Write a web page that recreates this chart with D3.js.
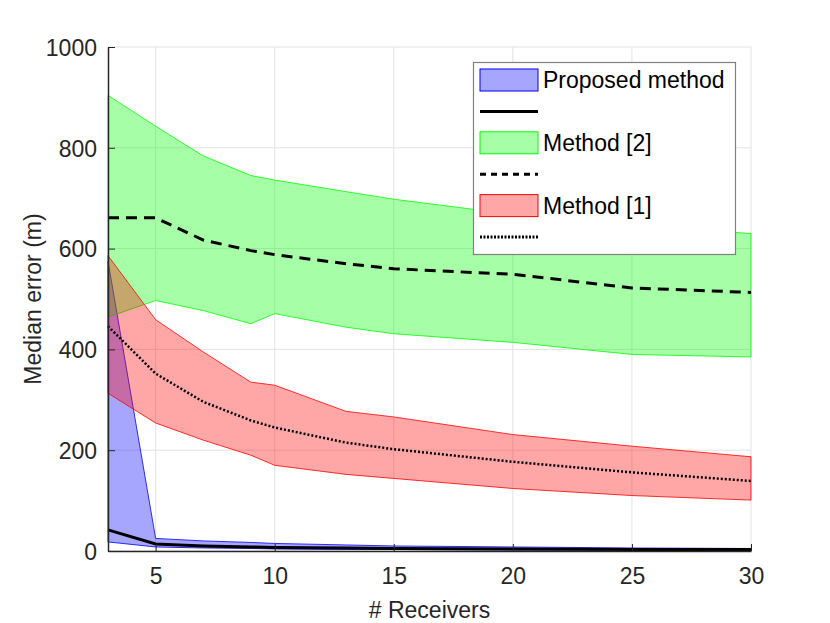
<!DOCTYPE html>
<html>
<head>
<meta charset="utf-8">
<script src="https://cdn.jsdelivr.net/npm/d3@7"></script>
<style>
  body { margin: 0; background: #fff; }
  svg { font-family: "Liberation Sans", Arial, sans-serif; }
</style>
</head>
<body>
<svg id="chart" width="830" height="623"></svg>
<script>
// number of receivers
let receivers = [3, 5, 7, 9, 10, 13, 15, 20, 25, 30];

// proposed method: band + median
let proposedLow = [18, 8, 6, 5, 4, 3, 3, 2, 2, 1];
let proposedHigh = [575, 25, 20, 17, 15, 12, 10, 8, 6, 5];
let proposedMed = [42, 14, 10, 8, 7, 6, 5, 4, 3, 3];

// method [2]
let method2Low = [464, 497, 477, 451, 471, 444, 431, 414, 390, 385];
let method2High = [904, 843, 784, 745, 736, 713, 698, 668, 645, 630];
let method2Med = [661, 661, 617, 596, 588, 570, 560, 549, 522, 513];

// method [1]
let method1Low = [313, 254, 220, 190, 170, 152, 144, 124, 110, 101];
let method1High = [586, 459, 395, 335, 329, 277, 266, 231, 208, 187];
let method1Med = [446, 352, 296, 259, 245, 215, 202, 177, 156, 139];

let xTicks = [5, 10, 15, 20, 25, 30];
let yTicks = [0, 200, 400, 600, 800, 1000];

const svg = d3.select('#chart');
const plotLeft = 108, plotRight = 751, plotTop = 47, plotBottom = 551;
const axisColor = '#262626';

let x = d3.scaleLinear().domain([3, 30]).range([plotLeft, plotRight]);
let y = d3.scaleLinear().domain([0, 1000]).range([plotBottom, plotTop]);

// grid
svg.append('g').selectAll('line').data(xTicks).join('line')
    .attr('x1', d => x(d)).attr('x2', d => x(d))
    .attr('y1', plotTop).attr('y2', plotBottom)
    .attr('stroke', '#e3e3e3').attr('stroke-width', 1);
svg.append('g').selectAll('line').data(yTicks).join('line')
    .attr('x1', plotLeft).attr('x2', plotRight)
    .attr('y1', d => y(d)).attr('y2', d => y(d))
    .attr('stroke', '#e3e3e3').attr('stroke-width', 1);

function band(low, high, fill, edge) {
    let rows = receivers.map((r, i) => ({ r: r, lo: low[i], hi: high[i] }));
    let area = d3.area().x(d => x(d.r)).y0(d => y(d.lo)).y1(d => y(d.hi));
    svg.append('path').datum(rows)
        .attr('d', area)
        .attr('fill', fill).attr('fill-opacity', 0.35)
        .attr('stroke', edge).attr('stroke-width', 1).attr('stroke-opacity', 0.8);
}

function median(vals, dash, width) {
    let line = d3.line().x((d, i) => x(receivers[i])).y(d => y(d));
    svg.append('path').datum(vals)
        .attr('d', line)
        .attr('fill', 'none').attr('stroke', '#000')
        .attr('stroke-width', width)
        .attr('stroke-dasharray', dash);
}

band(proposedLow, proposedHigh, '#0000ff', '#0000ff');
median(proposedMed, null, 3);
band(method2Low, method2High, '#00ff00', '#00ff00');
median(method2Med, '11,7', 3);
band(method1Low, method1High, '#ff0000', '#ff0000');
median(method1Med, '2,2', 2.5);

// axes
let xAxis = d3.axisBottom(x).tickValues(xTicks).tickFormat(d3.format('d'))
    .tickSizeInner(-7).tickSizeOuter(0).tickPadding(17);
let yAxis = d3.axisLeft(y).tickValues(yTicks).tickFormat(d3.format('d'))
    .tickSizeInner(-7).tickSizeOuter(0).tickPadding(11);

let gx = svg.append('g').attr('transform', `translate(0,${plotBottom})`).call(xAxis);
let gy = svg.append('g').attr('transform', `translate(${plotLeft},0)`).call(yAxis);
[gx, gy].forEach(g => {
    g.select('.domain').attr('stroke', axisColor).attr('stroke-width', 1.5);
    g.selectAll('.tick line').attr('stroke', axisColor);
    g.selectAll('.tick text').attr('fill', axisColor)
        .style('font-size', '23px').style('font-family', '"Liberation Sans", Arial, sans-serif');
});
gy.selectAll('.tick text').attr('dy', '0.36em');

svg.append('text')
    .attr('x', (plotLeft + plotRight) / 2).attr('y', 618)
    .attr('text-anchor', 'middle').attr('fill', axisColor)
    .style('font-size', '23px')
    .text('# Receivers');

svg.append('text')
    .attr('transform', `translate(41,${(plotTop + plotBottom) / 2}) rotate(-90)`)
    .attr('text-anchor', 'middle').attr('fill', axisColor)
    .style('font-size', '23px')
    .text('Median error (m)');

// legend
let legendEntries = [
    { kind: 'patch', color: '#0000ff', label: 'Proposed method' },
    { kind: 'line', dash: null, label: '' },
    { kind: 'patch', color: '#00ff00', label: 'Method [2]' },
    { kind: 'line', dash: '6,5', label: '' },
    { kind: 'patch', color: '#ff0000', label: 'Method [1]' },
    { kind: 'line', dash: '2,1.5', label: '' }
];
let lg = svg.append('g');
lg.append('rect')
    .attr('x', 473.5).attr('y', 62.5).attr('width', 262).attr('height', 192)
    .attr('fill', '#fff').attr('stroke', '#808080').attr('stroke-width', 1.2);
legendEntries.forEach((e, i) => {
    let cy = 80 + i * 31.4;
    if (e.kind === 'patch') {
        lg.append('rect')
            .attr('x', 480).attr('y', cy - 11).attr('width', 58).attr('height', 22)
            .attr('fill', e.color).attr('fill-opacity', 0.35)
            .attr('stroke', e.color).attr('stroke-width', 1);
    } else {
        lg.append('line')
            .attr('x1', 480).attr('x2', 538).attr('y1', cy).attr('y2', cy)
            .attr('stroke', '#000').attr('stroke-width', 3)
            .attr('stroke-dasharray', e.dash);
    }
    if (e.label) {
        lg.append('text')
            .attr('x', 543).attr('y', cy + 8)
            .attr('fill', '#000')
            .style('font-size', '23px')
            .text(e.label);
    }
});
</script>
</body>
</html>
